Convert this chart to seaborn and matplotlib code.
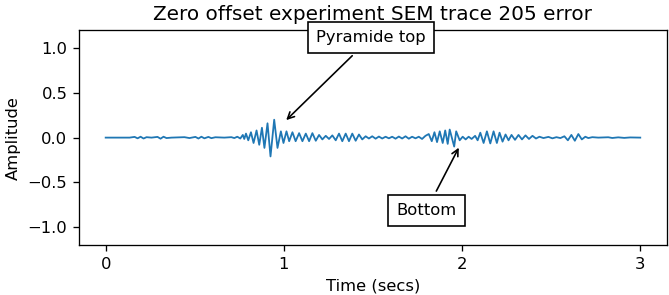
import pandas as pd
import seaborn as sns
import matplotlib
matplotlib.use("Agg")
import matplotlib.pyplot as plt

# Picos e vales do traco (tempo em s, amplitude)
time_secs = [
    0.0, 0.1343, 0.1623, 0.1791, 0.1959, 0.2126, 0.2294, 0.2574, 0.2910, 0.3078,
    0.3246, 0.3413, 0.3693, 0.4421, 0.4701, 0.5036, 0.5204, 0.5372, 0.5540, 0.5764,
    0.5932, 0.6156, 0.6659, 0.7051, 0.7219, 0.7387, 0.7555,
    0.7695, 0.7778, 0.7874, 0.8002, 0.8153, 0.8299, 0.8467, 0.8618, 0.8769, 0.8909,
    0.9082, 0.9250, 0.9457, 0.9642, 0.9832, 0.9978, 1.0146, 1.0297, 1.0481,
    1.0660, 1.0856, 1.1041, 1.1231, 1.1416, 1.1600, 1.1791, 1.1975, 1.2160, 1.2350,
    1.2535, 1.2720, 1.2910, 1.3094, 1.3279, 1.3470, 1.3654, 1.3839, 1.4029, 1.4214,
    1.4399, 1.4589, 1.4773, 1.4958, 1.5148, 1.5333, 1.5518, 1.5708, 1.5893, 1.6077,
    1.6267, 1.6452, 1.6637, 1.6827, 1.7012, 1.7196, 1.7387, 1.7571, 1.7756, 1.7946,
    1.8131, 1.8299, 1.8450, 1.8595, 1.8747, 1.8914, 1.9054, 1.9194, 1.9306, 1.9558,
    1.9670, 1.9866, 2.0034, 2.0202, 2.0369, 2.0537, 2.0733, 2.0873,
    2.1024, 2.1209, 2.1393, 2.1584, 2.1769, 2.1953, 2.2104, 2.2272, 2.2440, 2.2608,
    2.2775, 2.2971, 2.3167, 2.3363, 2.3559, 2.3755, 2.3951, 2.4147, 2.4343, 2.4566,
    2.4846, 2.5070, 2.5294, 2.5518,
    2.5742, 2.5938, 2.6134, 2.6329, 2.6525, 2.6721, 2.6917, 2.7085, 2.7308, 2.7644,
    2.8204, 2.8428, 2.8764, 2.9099, 2.9435, 3.0,
]
amplitude = [
    0.0, 0.0, 0.008, -0.008, 0.01, -0.01, 0.005, 0.0, 0.008, -0.012,
    0.01, -0.005, 0.0, 0.005, -0.005, 0.008, -0.01, 0.01, -0.008, 0.008,
    -0.006, 0.004, 0.0, 0.005, -0.005, 0.01, -0.01,
    0.03, -0.015, 0.045, -0.03, 0.06, -0.06, 0.08, -0.08, 0.11, -0.115,
    0.16, -0.21, 0.20, -0.115, 0.07, -0.06, 0.07, -0.04, 0.06,
    -0.04, 0.05, -0.04, 0.045, -0.04, 0.05, -0.035, 0.03, -0.02, 0.02,
    -0.015, 0.025, -0.03, 0.045, -0.04, 0.045, -0.04, 0.045, -0.035, 0.035,
    -0.02, 0.015, -0.01, 0.015, -0.012, 0.012, -0.01, 0.01, -0.008, 0.01,
    -0.012, 0.012, -0.01, 0.015, -0.012, 0.01, -0.008, 0.01, -0.015, 0.02,
    0.04, -0.04, 0.06, -0.05, 0.07, -0.06, 0.08, -0.07, 0.09, -0.1,
    0.07, -0.03, 0.01, -0.02, 0.01, -0.015, 0.02, -0.03,
    0.055, -0.06, 0.07, -0.065, 0.07, -0.06, 0.055, -0.045, 0.035, -0.03,
    0.03, -0.025, 0.03, -0.02, 0.025, -0.015, 0.02, -0.01, 0.01, -0.005,
    0.008, -0.008, 0.005, -0.005,
    0.015, -0.03, 0.03, -0.035, 0.04, -0.02, 0.01, -0.005, 0.005, 0.0,
    0.004, -0.004, 0.003, -0.003, 0.002, 0.0,
]

df = pd.DataFrame({"t": time_secs, "amp": amplitude})

fig = plt.figure(figsize=(669 / 118, 295 / 118), dpi=118)
ax = fig.add_axes([0.118, 0.169, 0.879, 0.729])

sns.lineplot(data=df, x="t", y="amp", ax=ax, color="#1f77b4", linewidth=1.1,
             estimator=None, sort=False)

ax.set_ylim(-1.2, 1.2)
ax.set_xlim(-0.15, 3.15)
ax.set_yticks([-1.0, -0.5, 0.0, 0.5, 1.0])
ax.set_xticks([0, 1, 2, 3])
ax.set_title("Zero offset experiment SEM trace 205 error", fontsize=12.2)
ax.set_xlabel("Time (secs)")
ax.set_ylabel("Amplitude")

caixa = dict(boxstyle="square,pad=0.5", fc="white", ec="black")
ax.annotate("Pyramide top", xy=(1.0, 0.17), xytext=(1.49, 1.12),
            ha="center", va="center", bbox=caixa,
            arrowprops=dict(arrowstyle="->", color="black"))
ax.annotate("Bottom", xy=(1.99, -0.08), xytext=(1.80, -0.81),
            ha="center", va="center", bbox=caixa,
            arrowprops=dict(arrowstyle="->", color="black"))

fig.savefig("out.png", dpi=118)
